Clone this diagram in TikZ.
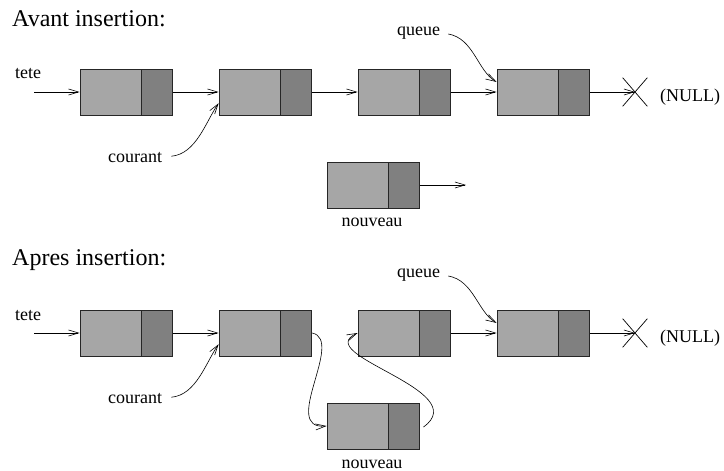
\documentclass[tikz,border=0pt]{standalone}
\usepackage{fontspec}
\setmainfont{Liberation Serif}
\usetikzlibrary{arrows.meta,positioning,shapes.misc}
\definecolor{cellgray}{HTML}{A6A6A6}
\definecolor{ptrgray}{HTML}{808080}

\begin{document}
\begin{tikzpicture}[
    x=1pt, y=-1pt,
    cell/.style={
        draw=black!85,fill=cellgray,inner sep=0,line width=0.8pt,
        minimum width=61pt,minimum height=46pt
    },
    ptr/.style={cell,fill=ptrgray,minimum width=31pt},
    link/.style={
        -{Straight Barb[length=10pt,width=6pt]},line width=0.6pt
    },
    lbl/.style={anchor=base west,inner sep=0,font=\fontsize{18}{20}\selectfont},
    title/.style={anchor=base west,inner sep=0,font=\fontsize{24}{28}\selectfont},
    nil/.style={
        cross out,draw,inner sep=0,line width=0.7pt,
        minimum width=24pt,minimum height=28pt
    }
]
    \useasboundingbox (0,0) rectangle (724,471);

    % avant insertion
    \node[title] (avant) at (12,27) {Avant insertion:};
    \foreach \i/\x in {1/110.5,2/249.5,3/388.5,4/527.5}{
        \node[cell] (a\i) at (\x,92) {};
        \node[ptr,right=0pt of a\i] (ap\i) {};
    }
    \foreach \i/\j in {1/2,2/3,3/4}
        \draw[link] (ap\i) -- (a\j);

    \node[lbl] (atete) at (15,78) {tete};
    \coordinate (ain) at (34,92);
    \draw[link] (ain) -- (a1);

    \node[lbl] (acourant) at (108,162) {courant};
    \draw[link,shorten <=9pt] (acourant.east)
        to[out=5,in=235,out distance=34pt,in distance=22pt] (a2.200);

    \node[lbl] (aqueue) at (397,35) {queue};
    \draw[link,shorten <=8pt] (aqueue.east)
        to[out=-10,in=150,out distance=34pt,in distance=22pt] (a4.162);

    \node[nil] (anil) at (635,92) {};
    \draw[link] (ap4) -- (anil.center);
    \node[lbl] (anull) at (660,101) {(NULL)};

    \node[cell] (an) at (357.5,185) {};
    \node[ptr,right=0pt of an] (anp) {};
    \coordinate (aout) at (466,185);
    \draw[link] (anp) -- (aout);
    \node[lbl,anchor=base] (anouveau) at (372,226) {nouveau};

    % apres insertion
    \node[title] (apres) at (12,265) {Apres insertion:};
    \foreach \i/\x in {1/110.5,2/249.5,3/388.5,4/527.5}{
        \node[cell] (b\i) at (\x,333) {};
        \node[ptr,right=0pt of b\i] (bp\i) {};
    }
    \draw[link] (bp1) -- (b2);
    \draw[link] (bp3) -- (b4);

    \node[lbl] (btete) at (15,320) {tete};
    \coordinate (bin) at (34,333);
    \draw[link] (bin) -- (b1);

    \node[lbl] (bcourant) at (108,403) {courant};
    \draw[link,shorten <=9pt] (bcourant.east)
        to[out=5,in=235,out distance=34pt,in distance=22pt] (b2.200);

    \node[lbl] (bqueue) at (397,277) {queue};
    \draw[link,shorten <=8pt] (bqueue.east)
        to[out=-10,in=150,out distance=34pt,in distance=22pt] (b4.162);

    \node[nil] (bnil) at (635,333) {};
    \draw[link] (bp4) -- (bnil.center);
    \node[lbl] (bnull) at (660,342) {(NULL)};

    \node[cell] (bn) at (357.5,426) {};
    \node[ptr,right=0pt of bn] (bnp) {};
    \node[lbl,anchor=base] (bnouveau) at (372,468) {nouveau};

    \draw[link] (bp2.east)
        .. controls (345,340) and (280,430) .. (bn.west);
    \draw[link,shorten <=4pt] (bnp.-12)
        .. controls (475,390) and (310,355) .. (b3.west);
\end{tikzpicture}
\end{document}
